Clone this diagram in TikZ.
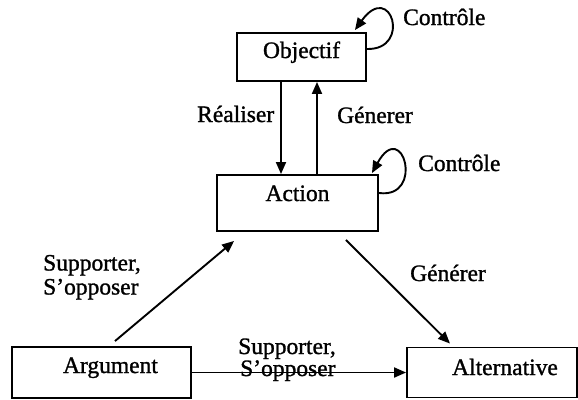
\documentclass[tikz,border=0pt]{standalone}
\usepackage{fontspec}
\setmainfont{Liberation Serif}[FakeBold=1.2]
\usetikzlibrary{arrows.meta}
\begin{document}
\begin{tikzpicture}[x=1pt,y=-1pt,
  every node/.style={font=\fontsize{23.5}{24}\selectfont},
  box/.style={draw, line width=1.9pt, inner sep=0pt, text height=16pt},
  arr/.style={line width=1.9pt, -{Triangle[length=12pt,width=10pt]}},
  lbl/.style={inner sep=0pt, anchor=base west}]
\useasboundingbox (0,0) rectangle (578,399);

% concept boxes
\node[box, minimum width=129pt, minimum height=48pt, text depth=14pt] (obj) at (301.5,57) {Objectif};
\node[box, minimum width=161pt, minimum height=56pt, text depth=20pt] (act) at (297.5,203) {Action};
\node[box, minimum width=179pt, minimum height=51pt, text depth=15pt] (arg) at (101.5,372.5) {\hspace*{18pt}Argument};
\node[box, minimum width=170pt, minimum height=50pt, text depth=11pt] (alt) at (492,372.5) {\hspace*{26pt}Alternative};

% relation labels
\node[lbl] (ctrlobj) at (403,25) {Contrôle};
\node[lbl] (ctrlact) at (418,171) {Contrôle};
\node[lbl] (realiser) at (197,122) {Réaliser};
\node[lbl] (genobj) at (337,123) {Génerer};
\node[lbl] (supact1) at (43,270.5) {Supporter,};
\node[lbl] (supact2) at (43,294.5) {S’opposer};
\node[lbl] (genalt) at (410,281) {Générer};
\node[lbl] (supalt1) at (238,354) {Supporter,};
\node[lbl] (supalt2) at (240,376) {S’opposer};

% relations
\draw[arr] ([xshift=-20.5pt]obj.south) -- ([xshift=-20.5pt]obj.south |- act.north);
\draw[arr] ([xshift=19.5pt]act.north) -- ([xshift=19.5pt]act.north |- obj.south);
\draw[arr] ([yshift=8pt]obj.east) .. controls +(45,1) and +(36,-50) .. ([xshift=-12pt,yshift=2pt]obj.north east);
\draw[arr] ([yshift=10pt]act.east) .. controls +(46,6) and +(31,-56) .. ([xshift=-7pt,yshift=1pt]act.north east);
\draw[arr] ([xshift=13.5pt,yshift=5pt]arg.north) -- ([xshift=18pt,yshift=-9pt]act.south west);
\draw[arr] ([xshift=-33pt,yshift=-8pt]act.south east) -- ([xshift=-42pt,yshift=3pt]alt.north);
\draw[arr] (arg.east) -- (alt.west);
\end{tikzpicture}
\end{document}
